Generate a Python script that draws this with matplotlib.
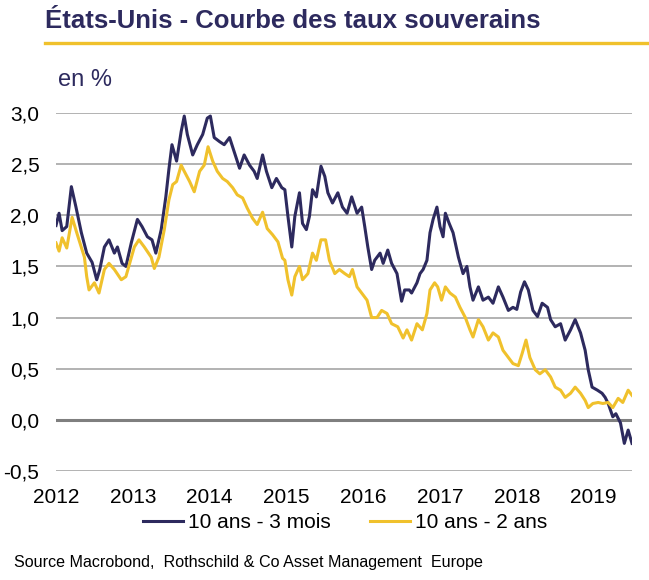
import numpy as np
import matplotlib
matplotlib.use('Agg')
import matplotlib.pyplot as plt
from matplotlib.lines import Line2D

plt.rcParams['font.family'] = ['Liberation Sans', 'DejaVu Sans']

# spread 10 ans - 3 mois (decimal years, %)
t_3m = [2012.00, 2012.04, 2012.08, 2012.14, 2012.20, 2012.26, 2012.33, 2012.40, 2012.47, 2012.53,
        2012.57, 2012.63, 2012.69, 2012.76, 2012.80, 2012.86, 2012.91, 2012.98, 2013.06, 2013.12,
        2013.19, 2013.25, 2013.30, 2013.37, 2013.43, 2013.47, 2013.51, 2013.57, 2013.63, 2013.67,
        2013.71, 2013.78, 2013.84, 2013.91, 2013.97, 2014.01, 2014.06, 2014.13, 2014.19, 2014.26,
        2014.32, 2014.39, 2014.45, 2014.52, 2014.58, 2014.62, 2014.69, 2014.74, 2014.81, 2014.87,
        2014.94, 2014.98, 2015.02, 2015.07, 2015.11, 2015.17, 2015.21, 2015.26, 2015.30, 2015.34,
        2015.39, 2015.45, 2015.50, 2015.54, 2015.60, 2015.67, 2015.73, 2015.79, 2015.85, 2015.92,
        2015.98, 2016.02, 2016.06, 2016.11, 2016.15, 2016.22, 2016.26, 2016.32, 2016.37, 2016.44,
        2016.50, 2016.54, 2016.60, 2016.63, 2016.70, 2016.74, 2016.78, 2016.83, 2016.87, 2016.91,
        2016.96, 2017.00, 2017.04, 2017.07, 2017.12, 2017.17, 2017.24, 2017.30, 2017.35, 2017.39,
        2017.43, 2017.50, 2017.56, 2017.63, 2017.69, 2017.76, 2017.82, 2017.89, 2017.95, 2018.00,
        2018.05, 2018.10, 2018.15, 2018.21, 2018.27, 2018.33, 2018.40, 2018.44, 2018.50, 2018.57,
        2018.63, 2018.70, 2018.76, 2018.83, 2018.89, 2018.93, 2018.98, 2019.05, 2019.11, 2019.15,
        2019.19, 2019.25, 2019.29, 2019.35, 2019.40, 2019.45, 2019.50]
v_3m = [1.90, 2.02, 1.85, 1.89, 2.28, 2.08, 1.83, 1.63, 1.54, 1.37,
        1.47, 1.69, 1.76, 1.63, 1.69, 1.53, 1.50, 1.73, 1.96, 1.89,
        1.79, 1.76, 1.63, 1.86, 2.18, 2.45, 2.69, 2.53, 2.82, 2.97,
        2.79, 2.59, 2.69, 2.79, 2.95, 2.97, 2.76, 2.72, 2.69, 2.76,
        2.62, 2.46, 2.59, 2.49, 2.43, 2.36, 2.59, 2.43, 2.27, 2.36,
        2.27, 2.25, 1.99, 1.69, 1.99, 2.22, 1.92, 1.86, 1.99, 2.25,
        2.18, 2.48, 2.38, 2.22, 2.12, 2.22, 2.08, 2.02, 2.18, 2.02,
        2.08, 1.89, 1.69, 1.47, 1.56, 1.63, 1.53, 1.66, 1.53, 1.43,
        1.16, 1.27, 1.27, 1.24, 1.34, 1.43, 1.47, 1.56, 1.83, 1.96,
        2.08, 1.89, 1.79, 2.02, 1.92, 1.83, 1.59, 1.43, 1.50, 1.30,
        1.17, 1.30, 1.17, 1.20, 1.14, 1.30, 1.20, 1.07, 1.10, 1.08,
        1.25, 1.35, 1.27, 1.07, 1.01, 1.14, 1.10, 0.98, 0.91, 0.94,
        0.78, 0.88, 0.98, 0.85, 0.68, 0.49, 0.32, 0.29, 0.26, 0.22,
        0.16, 0.03, 0.06, -0.03, -0.23, -0.10, -0.23]

# spread 10 ans - 2 ans
t_2y = [2012.00, 2012.04, 2012.08, 2012.14, 2012.21, 2012.27, 2012.37, 2012.40, 2012.43, 2012.50,
        2012.56, 2012.63, 2012.69, 2012.76, 2012.85, 2012.91, 2013.02, 2013.08, 2013.15, 2013.24,
        2013.28, 2013.34, 2013.41, 2013.47, 2013.52, 2013.57, 2013.63, 2013.67, 2013.74, 2013.80,
        2013.87, 2013.93, 2013.98, 2014.04, 2014.10, 2014.17, 2014.23, 2014.30, 2014.36, 2014.43,
        2014.49, 2014.56, 2014.62, 2014.69, 2014.75, 2014.82, 2014.89, 2014.95, 2014.98, 2015.02,
        2015.07, 2015.11, 2015.17, 2015.21, 2015.28, 2015.34, 2015.39, 2015.45, 2015.51, 2015.56,
        2015.63, 2015.69, 2015.76, 2015.82, 2015.86, 2015.92, 2015.98, 2016.05, 2016.11, 2016.18,
        2016.24, 2016.31, 2016.37, 2016.45, 2016.52, 2016.57, 2016.63, 2016.70, 2016.77, 2016.83,
        2016.87, 2016.93, 2016.97, 2017.02, 2017.07, 2017.13, 2017.20, 2017.26, 2017.33, 2017.39,
        2017.43, 2017.50, 2017.56, 2017.63, 2017.69, 2017.76, 2017.82, 2017.89, 2017.95, 2018.02,
        2018.07, 2018.12, 2018.17, 2018.24, 2018.30, 2018.37, 2018.44, 2018.50, 2018.57, 2018.63,
        2018.70, 2018.76, 2018.83, 2018.89, 2018.93, 2018.99, 2019.06, 2019.12, 2019.19, 2019.25,
        2019.32, 2019.38, 2019.45, 2019.50]
v_2y = [1.73, 1.65, 1.78, 1.68, 1.98, 1.83, 1.59, 1.40, 1.27, 1.34,
        1.24, 1.47, 1.53, 1.47, 1.37, 1.40, 1.69, 1.76, 1.69, 1.59,
        1.48, 1.59, 1.86, 2.15, 2.30, 2.33, 2.49, 2.43, 2.33, 2.23,
        2.43, 2.49, 2.67, 2.53, 2.43, 2.36, 2.33, 2.27, 2.20, 2.17,
        2.07, 1.97, 1.91, 2.03, 1.87, 1.81, 1.74, 1.58, 1.56, 1.37,
        1.22, 1.40, 1.50, 1.37, 1.43, 1.63, 1.56, 1.76, 1.76, 1.56,
        1.43, 1.47, 1.43, 1.40, 1.47, 1.30, 1.24, 1.17, 1.00, 1.00,
        1.07, 1.04, 0.94, 0.91, 0.80, 0.88, 0.78, 0.94, 0.88, 1.04,
        1.27, 1.34, 1.30, 1.17, 1.30, 1.24, 1.20, 1.10, 1.00, 0.88,
        0.81, 0.98, 0.91, 0.78, 0.85, 0.81, 0.68, 0.61, 0.55, 0.53,
        0.65, 0.78, 0.61, 0.49, 0.45, 0.49, 0.42, 0.32, 0.29, 0.22,
        0.26, 0.32, 0.26, 0.19, 0.12, 0.16, 0.17, 0.16, 0.17, 0.12,
        0.21, 0.17, 0.29, 0.24]

years = [2012, 2013, 2014, 2015, 2016, 2017, 2018, 2019]
yticks = [-0.5, 0.0, 0.5, 1.0, 1.5, 2.0, 2.5, 3.0]
ylabels = ['-0,5', '0,0', '0,5', '1,0', '1,5', '2,0', '2,5', '3,0']

navy = '#2d2a5e'
gold = '#f0c12c'

fig = plt.figure(figsize=(6.49, 5.8), dpi=100)
ax = fig.add_axes([56/649, 1 - 471/580, (632 - 56)/649, (471 - 113)/580])

# grid lines (zero line darker)
for y in yticks:
    if y == 0:
        ax.axhline(y, color='#7f7f7f', lw=2.2, zorder=1)
    else:
        ax.axhline(y, color='#a6a6a6', lw=1.2, zorder=1)

ax.plot(t_3m, v_3m, color=navy, lw=2.2, label='10 ans - 3 mois', zorder=3)
ax.plot(t_2y, v_2y, color=gold, lw=2.2, label='10 ans - 2 ans', zorder=3)

ax.set_xlim(2012, 2019.5)
ax.set_ylim(-0.5, 3.0)
ax.set_xticks(years)
ax.set_xticklabels([str(y) for y in years])
ax.set_yticks(yticks)
ax.set_yticklabels(ylabels)
ax.tick_params(axis='both', length=0, labelsize=15, colors='black')
ax.tick_params(axis='y', pad=12)
ax.tick_params(axis='x', pad=12)
for s in ax.spines.values():
    s.set_visible(False)

# title and header
fig.text(45/649, 1 - 21/580, 'États-Unis - Courbe des taux souverains', fontsize=18.5,
         fontweight='bold', color=navy, va='center', ha='left')
fig.add_artist(Line2D([45/649, 1.0], [1 - 43/580, 1 - 43/580], color=gold, lw=2.4,
                      transform=fig.transFigure))
fig.text(58/649, 1 - 80/580, 'en %', fontsize=17, color=navy, va='center', ha='left')

fig.legend(loc='center', bbox_to_anchor=(345/649, 1 - 523/580), ncol=2, frameon=False,
           fontsize=15, handlelength=1.9, columnspacing=1.9, handletextpad=0.25)

fig.text(14/649, 1 - 563/580, 'Source Macrobond,  Rothschild & Co Asset Management  Europe',
         fontsize=11.6, color='black', va='center', ha='left')

plt.savefig('out.png', dpi=100)
